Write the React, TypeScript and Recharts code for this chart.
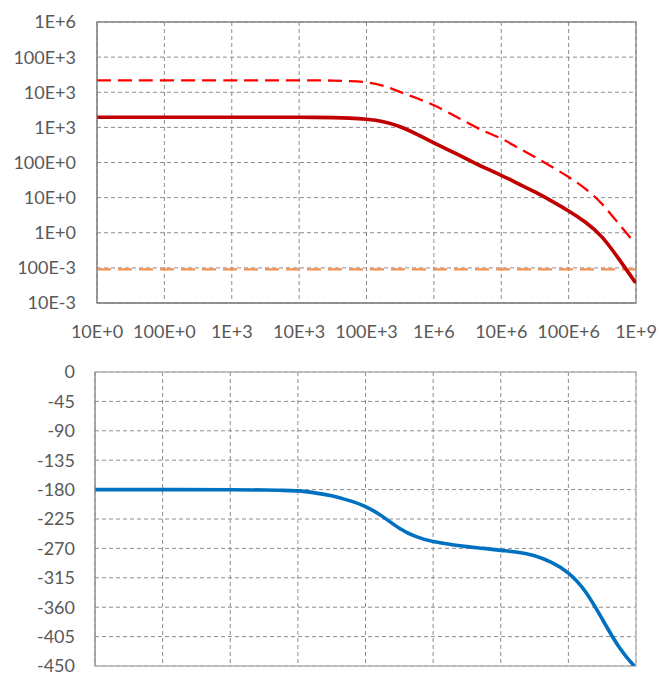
import { LineChart, Line, XAxis, YAxis, CartesianGrid, ReferenceArea } from "recharts"

// Sample frequencies (Hz): decades at the low end, quarter decades from 1k up
const freqs = [
  10, 100, 1e3, 3.16e3, 5.62e3, 1e4, 1.78e4, 3.16e4, 5.62e4, 1e5, 1.78e5, 3.16e5, 5.62e5, 1e6, 1.78e6, 3.16e6, 5.62e6,
  1e7, 1.78e7, 3.16e7, 5.62e7, 1e8, 1.78e8, 3.16e8, 5.62e8, 9.1e8, 1e9,
]

// |A| open-loop gain (dashed red)
const openLoopGain = [
  21900, 21900, 21900, 21900, 21900, 21900, 21850, 21460, 20760, 19190, 15270, 10170, 6730, 4250, 2430, 1349, 773,
  479, 262, 143.5, 75.5, 38.6, 17.8, 6.45, 1.74, 0.58, null,
]
// |A·β| loop gain (solid dark red)
const loopGain = [
  1936, 1936, 1936, 1936, 1936, 1936, 1923, 1897, 1837, 1698, 1442, 1038, 635, 364, 211, 123, 71.6,
  43.2, 25.1, 14.5, 7.96, 4.16, 1.99, 0.74, 0.175, 0.047, 0.0357,
]
// loop phase in degrees (blue)
const loopPhase = [
  -180, -180, -180.2, -180.6, -181.1, -182, -185, -189.5, -196.5, -206, -221, -239, -252, -259.5, -263.8, -267.3, -270,
  -273, -276, -281.4, -291.5, -307.8, -336, -378, -421, -448, -450,
]

// feedback factor β, flat over the whole band (dashed orange)
const betaFreqs = [10, 1e9]
const betaValues = [0.091, 0.091]

const freqTicks = [10, 100, 1e3, 1e4, 1e5, 1e6, 1e7, 1e8, 1e9]
const freqLabels = ["10E+0", "100E+0", "1E+3", "10E+3", "100E+3", "1E+6", "10E+6", "100E+6", "1E+9"]
const gainTicks = [0.01, 0.1, 1, 10, 100, 1e3, 1e4, 1e5, 1e6]
const gainLabels = ["10E-3", "100E-3", "1E+0", "10E+0", "100E+0", "1E+3", "10E+3", "100E+3", "1E+6"]
const phaseTicks = [0, -45, -90, -135, -180, -225, -270, -315, -360, -405, -450]

const magData = freqs.map((f, i) => ({ f, A: openLoopGain[i], Ab: loopGain[i] }))
const betaData = betaFreqs.map((f, i) => ({ f, beta: betaValues[i] }))
const phaseData = freqs.map((f, i) => ({ f, ph: loopPhase[i] }))

const labelFor = (ticks: number[], labels: string[]) => (v: number) => {
  const i = ticks.findIndex((t) => Math.abs(t - v) <= Math.abs(t) * 1e-6)
  return i >= 0 ? labels[i] : ""
}

const TEXT = "#595959"
const AXIS = "#868686"
const GRID = "#8c8c8c"
const tickStyle = { fill: TEXT, fontSize: 18, fontFamily: "Lato" }
const NoTick = () => <g />

export default function App() {
  return (
    <div style={{ position: "absolute", left: 0, top: 0, width: 659, height: 673, background: "#fff", fontFamily: "Lato" }}>
      <LineChart width={659} height={350} data={magData} margin={{ top: 22, right: 23, bottom: 0, left: 0 }}>
        <CartesianGrid stroke={GRID} strokeDasharray="4 3" verticalValues={freqTicks} horizontalValues={gainTicks} />
        <XAxis
          dataKey="f"
          type="number"
          scale="log"
          domain={[10, 1e9]}
          ticks={freqTicks}
          allowDataOverflow
          height={47}
          tickSize={0}
          tickMargin={22}
          tickLine={false}
          tick={tickStyle}
          stroke={AXIS}
          interval={0}
          tickFormatter={labelFor(freqTicks, freqLabels)}
        />
        <YAxis
          type="number"
          scale="log"
          domain={[0.01, 1e6]}
          ticks={gainTicks}
          allowDataOverflow
          width={97}
          tickSize={0}
          tickMargin={21}
          tickLine={false}
          tick={tickStyle}
          stroke={AXIS}
          interval={0}
          tickFormatter={labelFor(gainTicks, gainLabels)}
        />
        <ReferenceArea x1={10} x2={1e9} y1={0.01} y2={1e6} fill="none" fillOpacity={0} stroke={AXIS} strokeWidth={1.3} />
        <Line data={betaData} dataKey="beta" stroke="#f0914f" strokeWidth={2.3} strokeDasharray="14 7" dot={false} isAnimationActive={false} />
        <Line dataKey="A" type="natural" stroke="#ff0000" strokeWidth={2.3} strokeDasharray="14 7" dot={false} isAnimationActive={false} />
        <Line dataKey="Ab" type="natural" stroke="#c00000" strokeWidth={3.6} dot={false} isAnimationActive={false} />
      </LineChart>

      <div style={{ position: "absolute", left: 0, top: 340 }}>
        <LineChart width={659} height={333} data={phaseData} margin={{ top: 32, right: 23, bottom: 7, left: 0 }}>
          <CartesianGrid stroke={GRID} strokeDasharray="4 3" verticalValues={freqTicks} horizontalValues={phaseTicks} />
          <XAxis
            dataKey="f"
            type="number"
            scale="log"
            domain={[10, 1e9]}
            ticks={freqTicks}
            allowDataOverflow
            height={0}
            tickSize={0}
            tick={NoTick}
            tickLine={false}
            stroke={AXIS}
            interval={0}
          />
          <YAxis
            type="number"
            domain={[-450, 0]}
            ticks={phaseTicks}
            allowDataOverflow
            width={95}
            tickSize={0}
            tickMargin={20}
            tickLine={false}
            tick={tickStyle}
            stroke={AXIS}
            interval={0}
          />
          <ReferenceArea x1={10} x2={1e9} y1={-450} y2={0} fill="none" fillOpacity={0} stroke="#b4b4b4" strokeWidth={1.3} />
          <Line dataKey="ph" type="natural" stroke="#0070c0" strokeWidth={3.6} dot={false} isAnimationActive={false} />
        </LineChart>
      </div>
    </div>
  )
}
